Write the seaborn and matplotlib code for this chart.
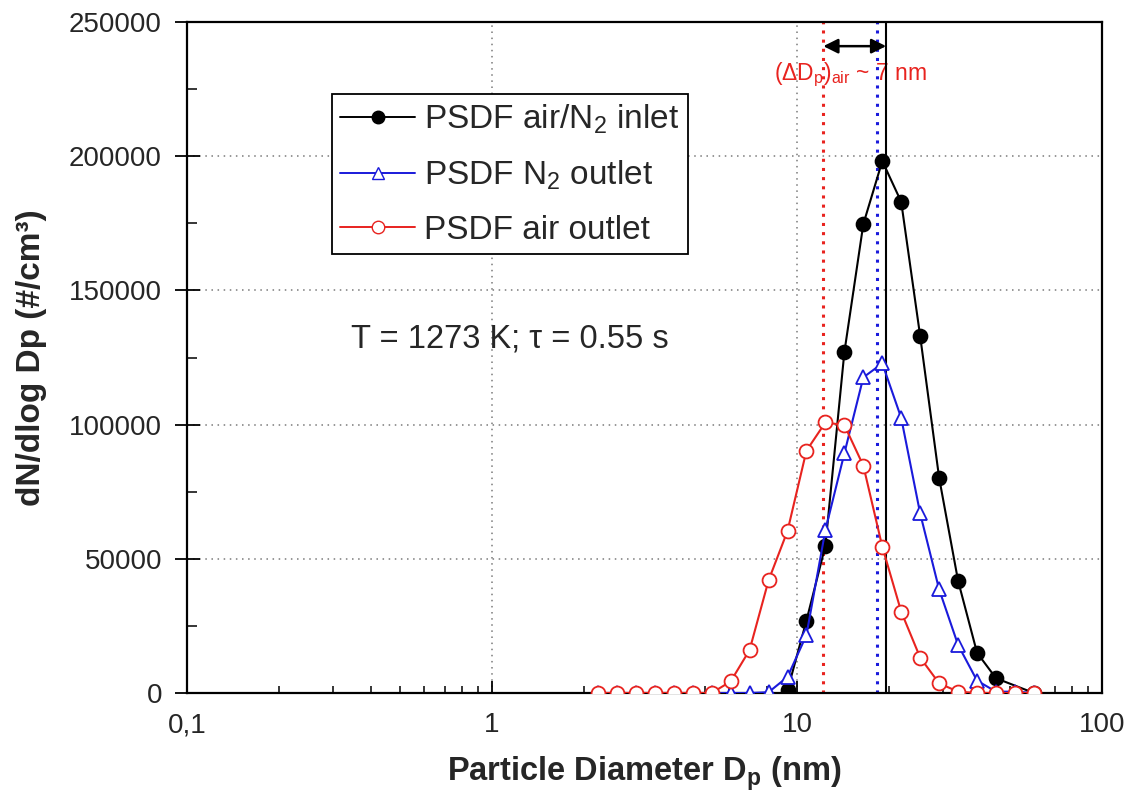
import numpy as np
import pandas as pd
import matplotlib
matplotlib.use("Agg")
import matplotlib.pyplot as plt
import seaborn as sns
from matplotlib.lines import Line2D
from matplotlib.ticker import LogLocator, FixedLocator, MultipleLocator, FuncFormatter

# ---- data ----
diam = [2.23, 2.57, 2.96, 3.42, 3.95, 4.55, 5.25, 6.06, 6.99, 8.07,
        9.31, 10.74, 12.39, 14.30, 16.50, 19.04, 21.96, 25.34, 29.24,
        33.74, 38.93, 44.92, 51.83, 59.80]

air_out = [0, 0, 0, 0, 0, 0, 0, 4300, 16000, 42000,
           60400, 90300, 100800, 99800, 84700, 54500, 30300, 13200, 3600,
           500, 0, 0, 0, 0]

n2_out = [0, 0, 0, 0, 0, 0, 0, 0, 0, 300,
          6000, 21600, 60700, 89300, 117600, 122800, 102500, 66900, 38600,
          17900, 4600, 500, 500, 0]

inlet_d = [9.31, 10.74, 12.39, 14.30, 16.50, 19.04, 21.96, 25.34, 29.24,
           33.74, 38.93, 44.92, 59.80]
inlet = [1000, 27000, 54900, 127000, 174700, 198200, 183000, 133000, 80200,
         41800, 15000, 5500, 0]

peak_air = 12.2
peak_n2 = 18.3
peak_inlet = 19.6

labels = ["PSDF air/N$_2$ inlet", "PSDF N$_2$ outlet", "PSDF air outlet"]
x_ticks = [0.1, 1, 10, 100]
x_ticklabels = ["0,1", "1", "10", "100"]
y_ticks = [0, 50000, 100000, 150000, 200000, 250000]

# ---- style ----
sns.set_theme(style="white")
plt.rcParams["font.family"] = ["Liberation Sans", "DejaVu Sans"]
plt.rcParams["mathtext.fontset"] = "custom"
plt.rcParams["mathtext.rm"] = "Liberation Sans"
plt.rcParams["mathtext.it"] = "Liberation Sans:italic"
plt.rcParams["mathtext.bf"] = "Liberation Sans:bold"

fig = plt.figure(figsize=(11.29, 7.97), dpi=100)
ax = fig.add_axes([187/1129, 1-693/797, (1102-187)/1129, (693-22)/797])

df_air = pd.DataFrame({"d": diam, "v": air_out})
df_n2 = pd.DataFrame({"d": diam, "v": n2_out})
df_in = pd.DataFrame({"d": inlet_d, "v": inlet})

red = "#e8231f"
blue = "#1a1adb"

line_kw = dict(lw=1.5, markersize=10, markeredgewidth=1.3)
sns.lineplot(data=df_in, x="d", y="v", ax=ax, color="black", marker="o",
             markerfacecolor="black", markeredgecolor="black", zorder=3, **line_kw)
sns.lineplot(data=df_n2, x="d", y="v", ax=ax, color=blue, marker="^",
             markerfacecolor="white", markeredgecolor=blue, zorder=4, **line_kw)
sns.lineplot(data=df_air, x="d", y="v", ax=ax, color=red, marker="o",
             markerfacecolor="white", markeredgecolor=red, zorder=5, **line_kw)

ax.set_xscale("log")
ax.set_xlim(0.1, 100)
ax.set_ylim(0, 250000)

# vertical markers
ax.axvline(peak_air, color=red, ls=(0, (1, 2)), lw=2.2, zorder=2)
ax.axvline(peak_n2, color=blue, ls=(0, (1, 2)), lw=2.2, zorder=2)
ax.axvline(peak_inlet, color="black", ls="-", lw=1.5, zorder=2)

ax.annotate("", xy=(peak_air, 241000), xytext=(peak_inlet, 241000),
            arrowprops=dict(arrowstyle="<|-|>", color="black", lw=1.8,
                            mutation_scale=22, shrinkA=0, shrinkB=0), zorder=6)
ax.text(8.4, 230500, r"$\mathrm{(\Delta D_p)_{air}}$ ~ 7 nm", color=red,
        fontsize=16.5, va="center", ha="left", zorder=1)

ax.text(0.345, 132000, "T = 1273 K; τ = 0.55 s", fontsize=23.5,
        va="center", ha="left")

# ticks
ax.xaxis.set_major_locator(FixedLocator(x_ticks))
ax.set_xticklabels(x_ticklabels)
ax.xaxis.set_minor_locator(LogLocator(base=10, subs=np.arange(2, 10)))
ax.xaxis.set_minor_formatter(FuncFormatter(lambda v, p: ""))
ax.yaxis.set_major_locator(FixedLocator(y_ticks))
ax.set_yticklabels([str(v) for v in y_ticks])
ax.yaxis.set_minor_locator(MultipleLocator(25000))

ax.tick_params(axis="x", which="major", direction="in", length=9, width=1.3,
               labelsize=20, pad=14, color="black", bottom=True)
ax.tick_params(axis="x", which="minor", direction="in", length=5, width=1.3,
               bottom=True)
ax.tick_params(axis="y", which="major", direction="inout", length=18, width=1.3,
               labelsize=20, pad=9, color="black", left=True)
ax.tick_params(axis="y", which="minor", direction="in", length=7, width=1.3,
               left=True)

for s in ax.spines.values():
    s.set_color("black")
    s.set_linewidth(1.6)

ax.grid(True, which="major", color="#7a7a7a", ls=(0, (1, 3)), lw=1.1)
ax.set_axisbelow(True)

ax.set_xlabel("Particle Diameter D$_\\mathbf{p}$ (nm)", fontsize=23.5,
              fontweight="bold")
ax.set_ylabel("dN/dlog Dp (#/cm³)", fontsize=24, fontweight="bold")
ax.yaxis.set_label_coords(-0.153, 0.5)
ax.xaxis.set_label_coords(0.5, -0.092)

handles = [
    Line2D([], [], color="black", marker="o", markerfacecolor="black",
           markeredgecolor="black", lw=1.4, markersize=9),
    Line2D([], [], color=blue, marker="^", markerfacecolor="white",
           markeredgecolor=blue, lw=1.4, markersize=9),
    Line2D([], [], color=red, marker="o", markerfacecolor="white",
           markeredgecolor=red, lw=1.4, markersize=9),
]
leg = ax.legend(handles, labels, loc="lower left",
                bbox_to_anchor=(332/1129, 1-254/797), bbox_transform=fig.transFigure,
                fontsize=24, frameon=True, fancybox=False, edgecolor="black",
                framealpha=1, handlelength=2.25, handletextpad=0.27,
                labelspacing=0.68, borderpad=0.25, borderaxespad=0)
leg.get_frame().set_linewidth(1.3)

fig.savefig("out.png", dpi=100)
